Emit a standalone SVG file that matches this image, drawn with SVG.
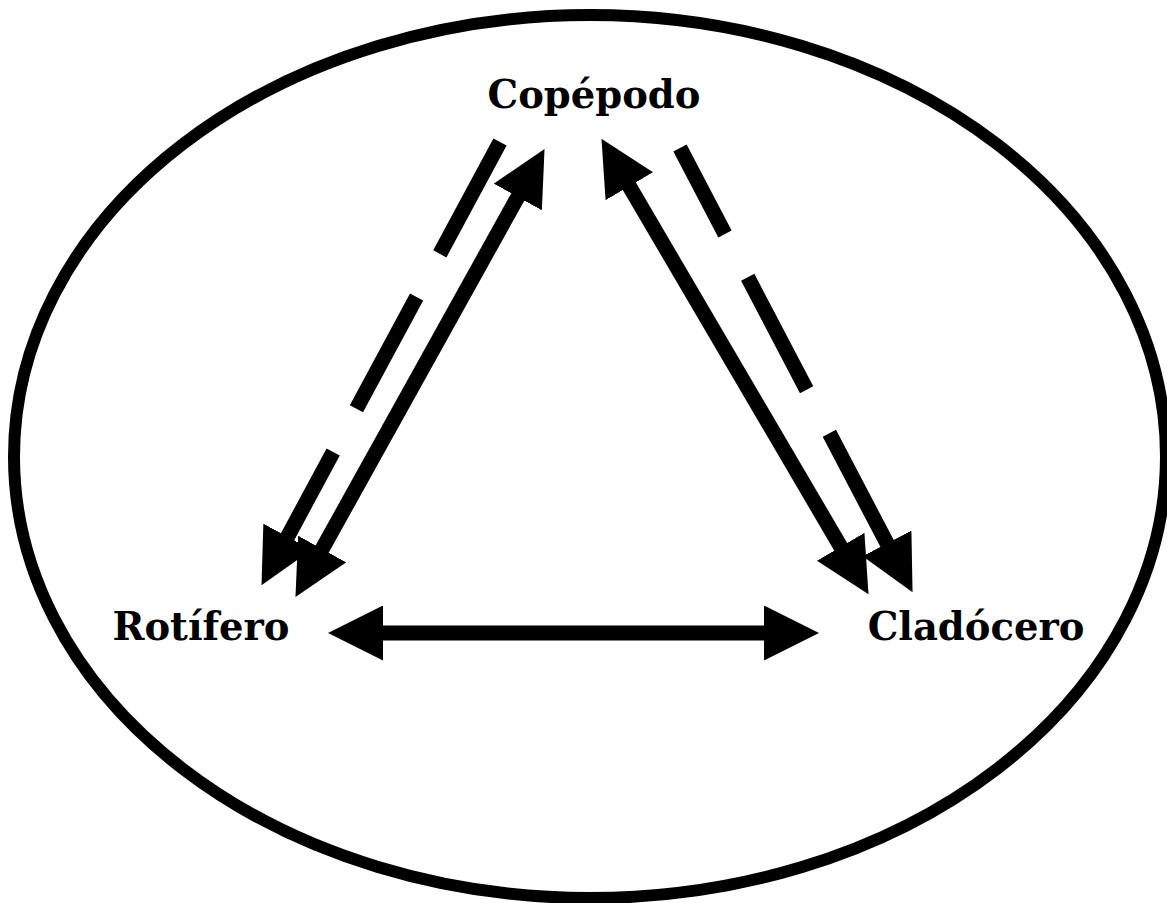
<svg xmlns="http://www.w3.org/2000/svg" width="1167" height="903" viewBox="0 0 1167 903">
  <style>
    .lbl { font-family: "DejaVu Serif", "Liberation Serif", serif; font-weight: bold; font-size: 38.5px; fill: #000; text-anchor: middle; }
    .ln { stroke: #000; stroke-width: 15; fill: none; stroke-linecap: butt; }
    .dash { stroke-dasharray: 127 49; }
  </style>
  <defs>
    <marker id="head" markerUnits="userSpaceOnUse" viewBox="0 0 55 55" markerWidth="55" markerHeight="55" refX="1" refY="27.5" orient="auto-start-reverse">
      <path d="M0,0 L55,27.5 L0,55 z" fill="#000"/>
    </marker>
  </defs>
  <rect width="1167" height="903" fill="#fff"/>
  <ellipse id="boundary" cx="590" cy="456.5" rx="576" ry="441.5" fill="none" stroke="#000" stroke-width="12"/>
  <g id="connectors">
    <line class="ln" x1="382" y1="633" x2="765" y2="633" marker-start="url(#head)" marker-end="url(#head)"/>
    <line class="ln" x1="518.3" y1="196.1" x2="321.7" y2="549.9" marker-start="url(#head)" marker-end="url(#head)"/>
    <line class="ln dash" x1="500" y1="142" x2="287.1" y2="537.6" marker-end="url(#head)"/>
    <line class="ln" x1="628.8" y1="185.4" x2="841.2" y2="547.6" marker-start="url(#head)" marker-end="url(#head)"/>
    <line class="ln dash" x1="680" y1="148" x2="887.5" y2="544.3" stroke-dashoffset="30" marker-end="url(#head)"/>
  </g>
  <g id="copepodo"><text class="lbl" x="594" y="108">Copépodo</text></g>
  <g id="rotifero"><text class="lbl" x="201" y="640">Rotífero</text></g>
  <g id="cladocero"><text class="lbl" x="976" y="640">Cladócero</text></g>
</svg>
